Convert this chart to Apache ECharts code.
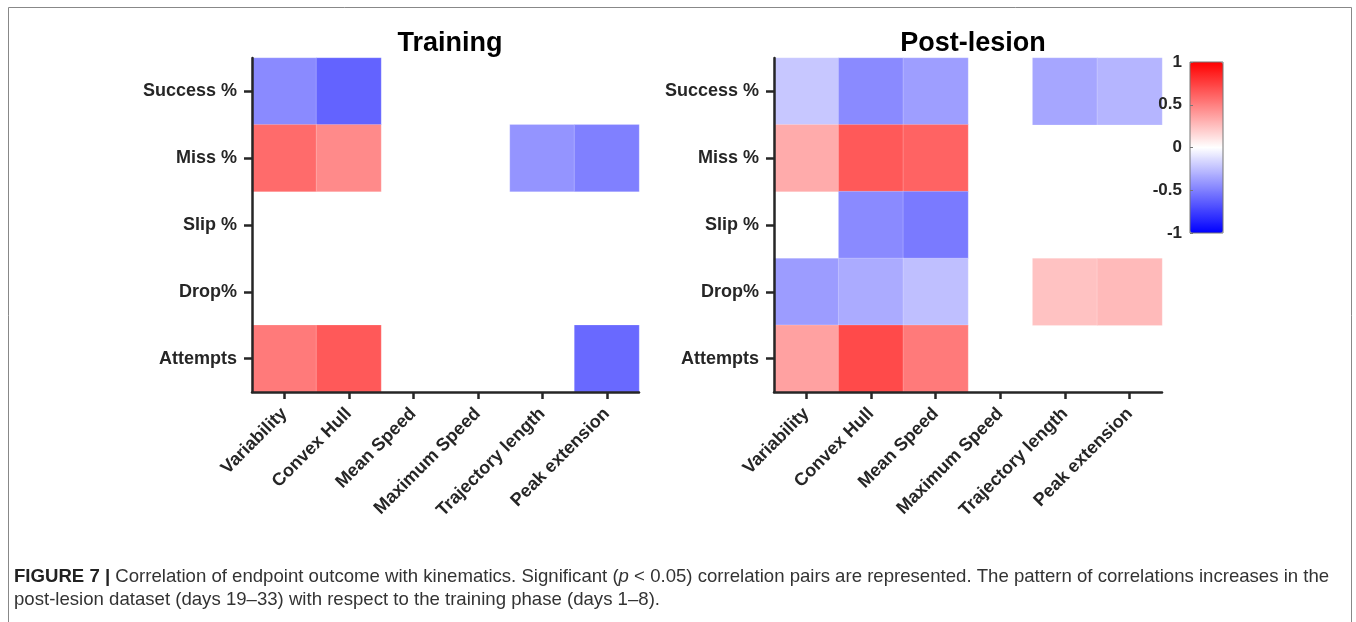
<!DOCTYPE html>
<html>
<head>
<meta charset="utf-8">
<script src="https://cdn.jsdelivr.net/npm/echarts@6/dist/echarts.min.js"></script>
<style>
  html, body { margin: 0; padding: 0; background: #fff; }
  #chart { width: 1356px; height: 622px; }
</style>
</head>
<body>
<div id="chart"></div>
<script>
const kinematics = ["Variability", "Convex Hull", "Mean Speed", "Maximum Speed", "Trajectory length", "Peak extension"];
const outcomes = ["Success %", "Miss %", "Slip %", "Drop%", "Attempts"];

// significant correlations only, null = not significant
const training = [
  [-0.46, -0.61, null, null, null, null],
  [0.58, 0.46, null, null, -0.42, -0.50],
  [null, null, null, null, null, null],
  [null, null, null, null, null, null],
  [0.52, 0.65, null, null, null, -0.59]
];
const postLesion = [
  [-0.22, -0.46, -0.38, null, -0.35, -0.29],
  [0.33, 0.65, 0.61, null, null, null],
  [null, -0.46, -0.52, null, null, null],
  [-0.39, -0.33, -0.25, null, 0.24, 0.27],
  [0.37, 0.71, 0.52, null, null, null]
];
const colorbarTicks = [-1, -0.5, 0, 0.5, 1];

function toCells(rows) {
  const out = [];
  rows.forEach((row, yi) => row.forEach((v, xi) => {
    if (v !== null) out.push([xi, yi, v]);
  }));
  return out;
}

const ink = "#262626";
const font = "Liberation Sans, Arial, sans-serif";

function catX(gi) {
  return {
    type: "category", gridIndex: gi, data: kinematics, z: 5,
    axisLine: { show: true, lineStyle: { color: ink, width: 2.5 } },
    axisTick: { show: true, alignWithLabel: true, length: 7, lineStyle: { color: ink, width: 2.5 } },
    axisLabel: { rotate: 45, margin: 19, color: ink, fontFamily: font, fontWeight: "bold", fontSize: 18 },
    splitLine: { show: false }
  };
}
function catY(gi) {
  return {
    type: "category", gridIndex: gi, data: outcomes, inverse: true, z: 5,
    axisLine: { show: true, lineStyle: { color: ink, width: 2.5 } },
    axisTick: { show: true, alignWithLabel: true, length: 8, lineStyle: { color: ink, width: 2.5 } },
    axisLabel: { margin: 15, color: ink, fontFamily: font, fontWeight: "bold", fontSize: 18 },
    splitLine: { show: false }
  };
}

const chart = echarts.init(document.getElementById("chart"));

const option = {
  backgroundColor: "#fff",
  animation: false,
  title: [
    { text: "Training", left: 445, top: 25, textAlign: "center",
      textStyle: { fontFamily: font, fontWeight: "bold", fontSize: 27, color: "#000" } },
    { text: "Post-lesion", left: 968, top: 25, textAlign: "center",
      textStyle: { fontFamily: font, fontWeight: "bold", fontSize: 27, color: "#000" } }
  ],
  grid: [
    { left: 252, top: 58, width: 387, height: 334 },
    { left: 774, top: 58, width: 388, height: 334 },
    { left: 1190, top: 62, width: 33, height: 171, show: true, z: 10,
      backgroundColor: "transparent", borderColor: "#777", borderWidth: 1 }
  ],
  xAxis: [
    catX(0), catX(1),
    { type: "value", gridIndex: 2, show: false, min: 0, max: 1 }
  ],
  yAxis: [
    catY(0), catY(1),
    { type: "value", gridIndex: 2, min: -1, max: 1, interval: 0.5, z: 10,
      axisLine: { show: false },
      axisTick: { show: true, inside: true, length: 3, lineStyle: { color: "#777" } },
      axisLabel: { margin: 8, color: ink, fontFamily: font, fontWeight: "bold", fontSize: 17,
        formatter: v => colorbarTicks.includes(v) ? String(v) : "" },
      splitLine: { show: false } }
  ],
  visualMap: {
    type: "continuous", min: -1, max: 1, seriesIndex: [0, 1],
    left: 1190, top: 62, itemWidth: 33, itemHeight: 171, padding: 0,
    calculable: false, text: null, hoverLink: false,
    inRange: { color: ["#0000ff", "#ffffff", "#ff0000"] }
  },
  series: [
    { type: "heatmap", xAxisIndex: 0, yAxisIndex: 0, data: toCells(training),
      itemStyle: { borderColor: "rgba(255,255,255,0.35)", borderWidth: 0.6 } },
    { type: "heatmap", xAxisIndex: 1, yAxisIndex: 1, data: toCells(postLesion),
      itemStyle: { borderColor: "rgba(255,255,255,0.35)", borderWidth: 0.6 } }
  ],
  graphic: [
    { type: "rect", shape: { x: 8.5, y: 7.5, width: 1343, height: 640 },
      style: { fill: "none", stroke: "#888", lineWidth: 1 }, silent: true },
    { type: "text", left: 14, top: 567,
      style: {
        text: "{b|FIGURE 7 |} Correlation of endpoint outcome with kinematics. Significant ({i|p} < 0.05) correlation pairs are represented. The pattern of correlations increases in the",
        fontFamily: font, fontSize: 18.6, fill: "#333",
        rich: {
          b: { fontFamily: font, fontSize: 18.6, fontWeight: "bold", fill: "#222" },
          i: { fontFamily: font, fontSize: 18.6, fontStyle: "italic", fill: "#333" }
        }
      } },
    { type: "text", left: 14, top: 590,
      style: { text: "post-lesion dataset (days 19\u201333) with respect to the training phase (days 1\u20138).",
        fontFamily: font, fontSize: 18.6, fill: "#333" } }
  ]
};

chart.setOption(option);
</script>
</body>
</html>
